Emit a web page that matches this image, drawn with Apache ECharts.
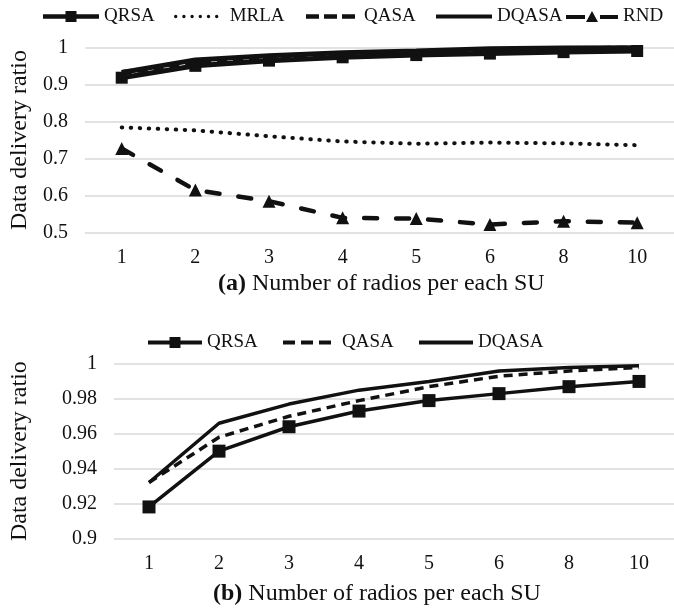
<!DOCTYPE html>
<html>
<head>
<meta charset="utf-8">
<script src="https://cdn.jsdelivr.net/npm/echarts@6/dist/echarts.min.js"></script>
<style>
  html, body { margin: 0; padding: 0; background: #fff; }
  #wrap { position: relative; width: 674px; height: 609px; overflow: hidden; }
  #chartA { position: absolute; left: 0; top: 0; width: 674px; height: 300px; }
  #chartB { position: absolute; left: 0; top: 300px; width: 674px; height: 309px; }
</style>
</head>
<body>
<div id="wrap">
  <div id="chartA"></div>
  <div id="chartB"></div>
</div>
<script>
// Number of radios per SU
const categories = ['1', '2', '3', '4', '5', '6', '8', '10'];

// Data delivery ratio per scheme
const qrsa  = [0.918, 0.950, 0.964, 0.973, 0.979, 0.983, 0.987, 0.990];
const mrla  = [0.784, 0.776, 0.760, 0.746, 0.740, 0.743, 0.741, 0.736];
const qasa  = [0.932, 0.958, 0.970, 0.979, 0.987, 0.993, 0.996, 0.998];
const dqasa = [0.932, 0.966, 0.977, 0.985, 0.990, 0.996, 0.998, 0.999];
const rnd   = [0.727, 0.615, 0.585, 0.540, 0.538, 0.522, 0.531, 0.527];

const ticksA = [0.5, 0.6, 0.7, 0.8, 0.9, 1];
const ticksB = [0.9, 0.92, 0.94, 0.96, 0.98, 1];

const FONT = 'Liberation Serif';
const INK = '#111111';
const GRID_LINE = '#d9d9d9';

// Legend glyphs drawn as paths so dashes, dots and markers read like the plotted lines
function dots(n, step, r) {
  let p = '';
  for (let i = 0; i < n; i++) {
    const cx = r + i * step;
    p += 'M' + (cx - r) + ',' + r + 'a' + r + ',' + r + ' 0 1,0 ' + (2 * r) + ',0' +
         'a' + r + ',' + r + ' 0 1,0 ' + (-2 * r) + ',0Z';
  }
  return 'path://' + p;
}
function dashes(n, dash, gap, h) {
  let p = '';
  for (let i = 0; i < n; i++) {
    const x = i * (dash + gap);
    p += 'M' + x + ',0H' + (x + dash) + 'V' + h + 'H' + x + 'Z';
  }
  return 'path://' + p;
}
function barSquare(w, s, t) {
  const y0 = (s - t) / 2, y1 = y0 + t, x0 = (w - s) / 2, x1 = x0 + s;
  return 'path://M0,' + y0 + 'H' + x0 + 'V0H' + x1 + 'V' + y0 + 'H' + w + 'V' + y1 +
         'H' + x1 + 'V' + s + 'H' + x0 + 'V' + y1 + 'H0Z';
}
const ICON_BAR = 'path://M0,0H56V4H0Z';
const ICON_RND = 'path://M0,4H19V8H0Z M20,11L26,0L32,11Z M34,4H52V8H34Z';

function legendItem(name, icon, left, top, w, h, padLeft) {
  return {
    left: left, top: top, padding: 0,
    data: [{ name: name, icon: icon }],
    itemWidth: w, itemHeight: h,
    itemStyle: { color: INK, borderWidth: 0 },
    lineStyle: { width: 0 },
    textStyle: { fontFamily: FONT, fontSize: 19, color: INK, padding: [0, 0, 0, padLeft || 0] },
    selectedMode: false
  };
}

function yAxisCfg(min, max, interval, nameGap, ticks) {
  return {
    type: 'value', min: min, max: max, interval: interval,
    name: 'Data delivery ratio', nameLocation: 'middle', nameGap: nameGap,
    nameTextStyle: { fontFamily: FONT, fontSize: 24, color: INK },
    axisLine: { show: false }, axisTick: { show: false },
    axisLabel: {
      fontFamily: FONT, fontSize: 20, color: INK, margin: 17,
      formatter: v => {
        const hit = ticks.find(t => Math.abs(t - v) < 1e-9);
        return hit === undefined ? '' : String(hit);
      }
    },
    splitLine: { lineStyle: { color: GRID_LINE, width: 1.5 } }
  };
}

function xAxisCfg() {
  return {
    type: 'category', data: categories, boundaryGap: true,
    axisLine: { show: false }, axisTick: { show: false },
    axisLabel: { fontFamily: FONT, fontSize: 20, color: INK, margin: 15 }
  };
}

function titleCfg(tag, left, top) {
  return {
    text: '{b|(' + tag + ')} Number of radios per each SU',
    left: left, top: top, padding: 0,
    textStyle: {
      fontFamily: FONT, fontSize: 24, fontWeight: 'normal', color: INK,
      rich: { b: { fontFamily: FONT, fontSize: 24, fontWeight: 'bold', color: INK } }
    }
  };
}

// (a) all five schemes
const chartA = echarts.init(document.getElementById('chartA'), null, { renderer: 'canvas' });
chartA.setOption({
  animation: false,
  backgroundColor: '#fff',
  title: titleCfg('a', 218, 272),
  legend: [
    legendItem('QRSA', barSquare(56, 11, 4.5), 43, 7, 56, 11, 0),
    legendItem('MRLA', dots(6, 8.2, 1.7), 174, 7, 45, 3.4, 6),
    legendItem('QASA', dashes(3, 13, 5, 4.5), 306, 7, 49, 4.5, 4),
    legendItem('DQASA', ICON_BAR, 436, 7, 56, 4.5, 0),
    legendItem('RND', ICON_RND, 566, 7, 52, 11, 0)
  ],
  grid: { left: 80, top: 47.3, width: 602, height: 185.4 },
  xAxis: xAxisCfg(),
  yAxis: yAxisCfg(0.5, 1, 0.1, 52, ticksA),
  series: [
    { name: 'MRLA', type: 'line', data: mrla, symbol: 'none',
      lineStyle: { color: INK, width: 4, type: [0.5, 8.5], cap: 'round' }, itemStyle: { color: INK } },
    { name: 'RND', type: 'line', data: rnd, symbol: 'triangle', symbolSize: 13,
      lineStyle: { color: INK, width: 4.5, type: [13, 19], cap: 'round' }, itemStyle: { color: INK } },
    { name: 'DQASA', type: 'line', data: dqasa, symbol: 'none',
      lineStyle: { color: INK, width: 5 }, itemStyle: { color: INK } },
    { name: 'QASA', type: 'line', data: qasa, symbol: 'none',
      lineStyle: { color: INK, width: 5, type: [10, 6] }, itemStyle: { color: INK } },
    { name: 'QRSA', type: 'line', data: qrsa, symbol: 'rect', symbolSize: 12,
      lineStyle: { color: INK, width: 5 }, itemStyle: { color: INK } }
  ]
});

// (b) close-up of the three QoS-aware schemes
const chartB = echarts.init(document.getElementById('chartB'), null, { renderer: 'canvas' });
chartB.setOption({
  animation: false,
  backgroundColor: '#fff',
  title: titleCfg('b', 213, 282),
  legend: [
    legendItem('QRSA', barSquare(54, 11, 4), 148, 33, 54, 11, 0),
    legendItem('QASA', dashes(3, 12, 6, 4), 283, 33, 48, 4, 6),
    legendItem('DQASA', 'path://M0,0H54V4H0Z', 419, 33, 54, 4, 0)
  ],
  grid: { left: 107.7, top: 64, width: 570.4, height: 174.3 },
  xAxis: xAxisCfg(),
  yAxis: yAxisCfg(0.9, 1, 0.02, 82, ticksB),
  series: [
    { name: 'DQASA', type: 'line', data: dqasa, symbol: 'none',
      lineStyle: { color: INK, width: 3.5 }, itemStyle: { color: INK } },
    { name: 'QASA', type: 'line', data: qasa, symbol: 'none',
      lineStyle: { color: INK, width: 3.5, type: [9, 6] }, itemStyle: { color: INK } },
    { name: 'QRSA', type: 'line', data: qrsa, symbol: 'rect', symbolSize: 13,
      lineStyle: { color: INK, width: 3.5 }, itemStyle: { color: INK } }
  ]
});
</script>
</body>
</html>
